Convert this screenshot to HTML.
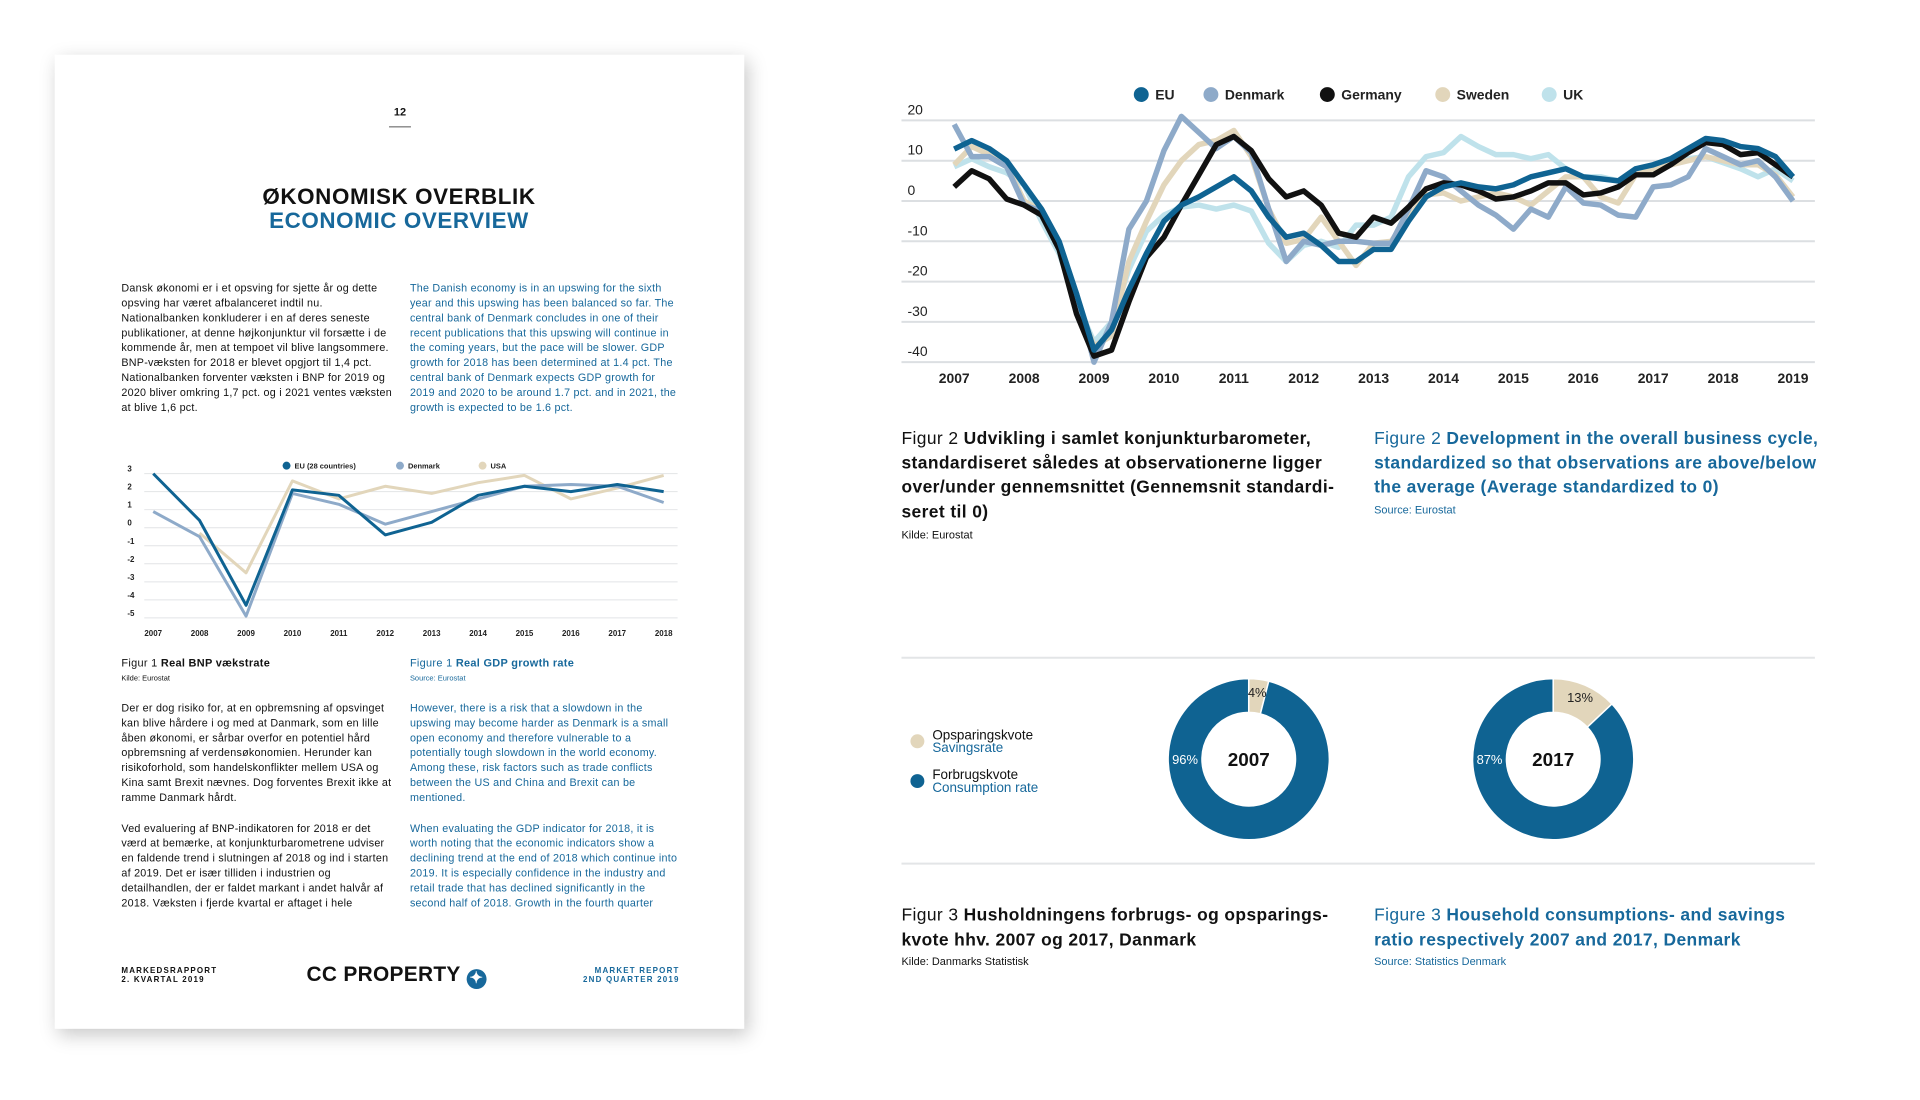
<!DOCTYPE html>
<html><head><meta charset="utf-8">
<style>
*{margin:0;padding:0;box-sizing:border-box}
body{width:1920px;height:1100px;background:#fff;position:relative;overflow:hidden;font-family:"Liberation Sans",sans-serif;color:#111}
#wrap{position:absolute;left:0;top:0;width:1920px;height:1100px;transform:scale(0.995);transform-origin:0 0}
.abs{position:absolute}
.page{left:55px;top:55px;width:693px;height:979px;background:#fff;box-shadow:4px 6px 18px rgba(0,0,0,0.22)}
.body{font-size:10.8px;line-height:15px;width:272px;letter-spacing:0.25px}
.blue{color:#17689b}
.cap{font-size:17.5px;line-height:24.6px;font-weight:bold;width:440px;letter-spacing:0.4px}
.cap span{font-weight:normal}
.src{font-size:11px}
</style></head><body>
<div id="wrap">
<div class="abs page"></div>
<div class="abs" style="left:390px;top:107px;font-size:11px;font-weight:bold;width:24px;text-align:center">12</div>
<div class="abs" style="left:391px;top:127px;width:22px;height:1px;background:#555"></div>
<div class="abs" style="left:101px;top:185px;width:600px;text-align:center;font-size:22.5px;font-weight:bold;letter-spacing:0.6px">ØKONOMISK OVERBLIK</div>
<div class="abs blue" style="left:101px;top:209px;width:600px;text-align:center;font-size:22.5px;font-weight:bold;letter-spacing:0.6px">ECONOMIC OVERVIEW</div>

<div class="abs body" style="left:122px;top:283px">Dansk økonomi er i et opsving for sjette år og dette opsving har været afbalanceret indtil nu. Nationalbanken konkluderer i en af deres seneste publikationer, at denne højkonjunktur vil forsætte i de kommende år, men at tempoet vil blive langsommere. BNP-væksten for 2018 er blevet opgjort til 1,4 pct. Nationalbanken forventer væksten i BNP for 2019 og 2020 bliver omkring 1,7 pct. og i 2021 ventes væksten at blive 1,6 pct.</div>
<div class="abs body blue" style="left:412px;top:283px">The Danish economy is in an upswing for the sixth year and this upswing has been balanced so far. The central bank of Denmark concludes in one of their recent publications that this upswing will continue in the coming years, but the pace will be slower. GDP growth for 2018 has been determined at 1.4 pct. The central bank of Denmark expects GDP growth for 2019 and 2020 to be around 1.7 pct. and in 2021, the growth is expected to be 1.6 pct.</div>

<div class="abs" style="left:122px;top:661px;font-size:11px;letter-spacing:0.3px">Figur 1 <b>Real BNP vækstrate</b></div>
<div class="abs" style="left:122px;top:677px;font-size:7.5px">Kilde: Eurostat</div>
<div class="abs blue" style="left:412px;top:661px;font-size:11px;letter-spacing:0.3px">Figure 1 <b>Real GDP growth rate</b></div>
<div class="abs blue" style="left:412px;top:677px;font-size:7.5px">Source: Eurostat</div>

<div class="abs body" style="left:122px;top:705px">Der er dog risiko for, at en opbremsning af opsvinget kan blive hårdere i og med at Danmark, som en lille åben økonomi, er sårbar overfor en potentiel hård opbremsning af verdensøkonomien. Herunder kan risikoforhold, som handelskonflikter mellem USA og Kina samt Brexit nævnes. Dog forventes Brexit ikke at ramme Danmark hårdt.</div>
<div class="abs body blue" style="left:412px;top:705px">However, there is a risk that a slowdown in the upswing may become harder as Denmark is a small open economy and therefore vulnerable to a potentially tough slowdown in the world economy. Among these, risk factors such as trade conflicts between the US and China and Brexit can be mentioned.</div>
<div class="abs body" style="left:122px;top:826px">Ved evaluering af BNP-indikatoren for 2018 er det værd at bemærke, at konjunkturbarometrene udviser en faldende trend i slutningen af 2018 og ind i starten af 2019. Det er især tilliden i industrien og detailhandlen, der er faldet markant i andet halvår af 2018. Væksten i fjerde kvartal er aftaget i hele</div>
<div class="abs body blue" style="left:412px;top:826px">When evaluating the GDP indicator for 2018, it is worth noting that the economic indicators show a declining trend at the end of 2018 which continue into 2019. It is especially confidence in the industry and retail trade that has declined significantly in the second half of 2018. Growth in the fourth quarter</div>

<div class="abs" style="left:122px;top:971px;font-size:8px;font-weight:bold;letter-spacing:1.2px;line-height:9px">MARKEDSRAPPORT<br>2. KVARTAL 2019</div>
<div class="abs" style="left:308px;top:968px;font-size:21px;font-weight:bold;letter-spacing:0.3px">CC PROPERTY <span style="display:inline-block;width:20px;height:20px;border-radius:50%;background:#17689b;color:#fff;font-size:16px;line-height:20px;text-align:center;vertical-align:-2px">✦</span></div>
<div class="abs blue" style="left:530px;top:971px;width:153px;text-align:right;font-size:8px;font-weight:bold;letter-spacing:1.2px;line-height:9px">MARKET REPORT<br>2ND QUARTER 2019</div>

<svg class="abs" style="left:0;top:0" width="1920" height="1100" id="svg"></svg>

<div class="abs cap" style="left:906px;top:428px;width:445px"><span>Figur 2</span> Udvikling i samlet konjunkturbarometer, standardiseret således at observationerne ligger over/under gennemsnittet (Gennemsnit standardi-seret til 0)</div>
<div class="abs src" style="left:906px;top:532px">Kilde: Eurostat</div>
<div class="abs cap blue" style="left:1381px;top:428px;width:460px"><span>Figure 2</span> Development in the overall business cycle, standardized so that observations are above/below the average (Average standardized to 0)</div>
<div class="abs src blue" style="left:1381px;top:507px">Source: Eurostat</div>

<div class="abs cap" style="left:906px;top:907px;width:455px"><span>Figur 3</span> Husholdningens forbrugs- og opsparings-kvote hhv. 2007 og 2017, Danmark</div>
<div class="abs src" style="left:906px;top:961px">Kilde: Danmarks Statistisk</div>
<div class="abs cap blue" style="left:1381px;top:907px;width:445px"><span>Figure 3</span> Household consumptions- and savings ratio respectively 2007 and 2017, Denmark</div>
<div class="abs src blue" style="left:1381px;top:961px">Source: Statistics Denmark</div>
</div>

<script>
// ---- Figure 2 data (quarterly 2007Q1..2019Q1)
const years2 = [2007,2008,2009,2010,2011,2012,2013,2014,2015,2016,2017,2018,2019];
const yTicks2 = [20,10,0,-10,-20,-30,-40];
const seriesNames2 = ["EU","Denmark","Germany","Sweden","UK"];
const euVals = [12.9,15,13,10,4,-2,-10,-23,-37,-32,-22,-13,-5,-1,1,3.5,6,2.5,-4,-9,-8,-11,-15,-15,-12,-12,-5,1,3.5,4.5,3.5,3,4,6,7,8,6,5.5,5,8,9,10.5,13,15.5,15,13.5,13,11,6];
const dkVals = [19,11,11,8.5,-1,-2.5,-12,-23,-40,-30,-7,0,12.5,21,17,13,16,12,-2,-15,-10,-11,-10,-10,-10.5,-10.5,-2,7.5,6,2.5,-1,-3.5,-7,-2,-4,3.5,-0.5,-1,-3.5,-4,3.5,4,6,13,11,9,10,6,0];
const deVals = [3.5,7.5,5.5,0.5,-1,-3.5,-12,-28,-38.5,-37,-25,-14,-9,-1,6.5,14,16,12.5,5.5,1,2.5,-1,-8,-9,-4,-5.5,-1.5,3,4.5,4,2.5,0.5,1,2.5,4.5,4.5,1.5,2,3.5,6.5,6.5,9,12,14.5,14,11.5,12,9,6];
const seVals = [9,13.5,11.5,9,0,-2.5,-12,-25,-36,-33.5,-15,-5,4,10,14,15,17.5,11,-2,-10.5,-9.5,-4,-10,-16,-10.5,-10,-4,1.5,2,0,1,2,1,-1,2.5,6,6,1,-0.5,6.5,8,9,10,11,10,9,9,6.5,1];
const ukVals = [8.5,10.5,8.5,7,4,-5,-13,-25,-35,-30,-17,-7.5,-3.5,-1.5,-1,-2,-1,-2.5,-10.5,-15,-11,-10,-11.5,-6,-6,-4,6,11,12,16,13.5,11.5,11.5,10.5,11.5,8,6,6,5,8,8,10,10.5,11,9.5,8,6,8,5];
const colors2 = ["#0f6392","#8eaac9","#111111","#e2d6bb","#bfe2eb"];

// ---- Figure 1 data (annual)
const years1 = [2007,2008,2009,2010,2011,2012,2013,2014,2015,2016,2017,2018];
const yTicks1 = [3,2,1,0,-1,-2,-3,-4,-5];
const gdpEU = [3,0.4,-4.3,2.1,1.8,-0.4,0.3,1.8,2.3,2.0,2.4,2.0];
const gdpDK = [0.9,-0.5,-4.9,1.9,1.3,0.2,0.9,1.6,2.3,2.4,2.3,1.4];
const gdpUSA = [null,-0.3,-2.5,2.6,1.6,2.3,1.9,2.5,2.9,1.6,2.2,2.9];

// ---- Figure 3 data
const donutYears = ["2007","2017"];
const savingsShare = [4,13];
const consumptionShare = [96,87];

const NS="http://www.w3.org/2000/svg";
const svg=document.getElementById('svg');
function mk(tag,attrs,parent){const e=document.createElementNS(NS,tag);for(const k in attrs)e.setAttribute(k,attrs[k]);(parent||svg).appendChild(e);return e;}
function txt(x,y,s,attrs){const t=mk('text',Object.assign({x:x,y:y,'font-family':'Liberation Sans, sans-serif'},attrs));t.textContent=s;return t;}

// ===== Figure 2
const g2=mk('g',{});


const x2=v=>959+(v-2007)*70.25;
const y2=v=>121+(20-v)*(364-121)/60;
yTicks2.forEach(v=>{
  const l=mk('line',{x1:906,x2:1824,y1:y2(v),y2:y2(v),stroke:'#dcdfe2','stroke-width':2},g2);
  
  
  const t=txt(912,y2(v)-6,String(v),{'font-size':14,fill:'#222'});g2.appendChild(t);
  
  
});
years2.forEach(v=>{
  const t=txt(x2(v),385,String(v),{'font-size':14,'font-weight':'bold','text-anchor':'middle',fill:'#222'});g2.appendChild(t);
  
  
});
const order=[4,3,1,2,0];
const allVals=[euVals,dkVals,deVals,seVals,ukVals];
order.forEach(i=>{
  const d=allVals[i].map((v,k)=>(k?'L':'M')+x2(2007+k/4).toFixed(1)+' '+y2(v).toFixed(1)).join(' ');
  const p=mk('path',{d:d,fill:'none',stroke:colors2[i],'stroke-width':5.5,'stroke-linejoin':'round'},g2);
  
  
});
const legX=[1147,1217,1334,1450,1557];
seriesNames2.forEach((n,i)=>{
  const c=mk('circle',{cx:legX[i],cy:95,r:7.5,fill:colors2[i]},g2);
  
  
  const t=txt(legX[i]+14,100,n,{'font-size':14,'font-weight':'bold',fill:'#222'});g2.appendChild(t);
  
  
});

// ===== Figure 1
const g1=mk('g',{});


const x1=v=>154+(v-2007)*(667-154)/11;
const y1=v=>476+(3-v)*(621-476)/8;
yTicks1.forEach(v=>{
  const l=mk('line',{x1:145,x2:681,y1:y1(v),y2:y1(v),stroke:'#e2e4e6','stroke-width':1},g1);
  
  
  const t=txt(128,y1(v)-2,String(v),{'font-size':8,'font-weight':'bold',fill:'#222'});g1.appendChild(t);
  
  
});
years1.forEach(v=>{
  const t=txt(x1(v),639,String(v),{'font-size':8,'font-weight':'bold','text-anchor':'middle',fill:'#222'});g1.appendChild(t);
  
  
});
[[gdpUSA,'#e2d6bb','usa'],[gdpDK,'#8eaac9','denmark'],[gdpEU,'#0f6392','eu']].forEach(s=>{
  let d='',first=true;
  s[0].forEach((v,k)=>{if(v===null)return;d+=(first?'M':'L')+x1(years1[k]).toFixed(1)+' '+y1(v).toFixed(1)+' ';first=false;});
  const p=mk('path',{d:d,fill:'none',stroke:s[1],'stroke-width':3,'stroke-linejoin':'round'},g1);
  
  
});
[[288,'#0f6392','EU (28 countries)'],[402,'#8eaac9','Denmark'],[485,'#e2d6bb','USA']].forEach(l=>{
  const c=mk('circle',{cx:l[0],cy:468,r:4,fill:l[1]},g1);
  
  
  const t=txt(l[0]+8,471,l[2],{'font-size':7.5,'font-weight':'bold',fill:'#222'});g1.appendChild(t);
  
  
});

// ===== Figure 3
const g3=mk('g',{});


[661,868].forEach(y=>{
  const l=mk('line',{x1:906,x2:1824,y1:y,y2:y,stroke:'#e3e5e7','stroke-width':2},g3);
  
  
});
const cxs=[1255,1561];
function arcPath(cx,cy,ro,ri,a0,a1){
  const p=(r,a)=>[cx+r*Math.sin(a),cy-r*Math.cos(a)];
  const large=(a1-a0)>Math.PI?1:0;
  const [x0,y0]=p(ro,a0),[xa,ya]=p(ro,a1),[xb,yb]=p(ri,a1),[xc,yc]=p(ri,a0);
  return `M${x0} ${y0} A${ro} ${ro} 0 ${large} 1 ${xa} ${ya} L${xb} ${yb} A${ri} ${ri} 0 ${large} 0 ${xc} ${yc} Z`;
}
donutYears.forEach((yr,i)=>{
  const cx=cxs[i],cy=763,ro=81,ri=47;
  const sa=savingsShare[i]/100*2*Math.PI;
  const s=mk('path',{d:arcPath(cx,cy,ro,ri,0,sa),fill:'#e2d6bb',stroke:'#fff','stroke-width':1.5},g3);
  
  
  const c=mk('path',{d:arcPath(cx,cy,ro,ri,sa,2*Math.PI-0.0001),fill:'#0f6392',stroke:'#fff','stroke-width':1.5},g3);
  
  
  const mid=sa/2, rl=(ro+ri)/2+4;
  const t1=txt(cx+rl*Math.sin(mid),cy-rl*Math.cos(mid)+5,savingsShare[i]+'%',{'font-size':13,'text-anchor':'middle',fill:'#222'});g3.appendChild(t1);
  
  
  const t2=txt(cx-(ro+ri)/2,cy+5,consumptionShare[i]+'%',{'font-size':13,'text-anchor':'middle',fill:'#fff'});g3.appendChild(t2);
  
  
  const t3=txt(cx,cy+7,yr,{'font-size':19,'font-weight':'bold','text-anchor':'middle',fill:'#111'});g3.appendChild(t3);
  
  
});
[[745,'#e2d6bb','Opsparingskvote','Savingsrate'],[785,'#0f6392','Forbrugskvote','Consumption rate']].forEach(l=>{
  const c=mk('circle',{cx:922,cy:l[0],r:7,fill:l[1]},g3);
  
  
  const a=txt(937,l[0]-2,l[2],{'font-size':13.5,fill:'#111'});g3.appendChild(a);
  
  
  const b=txt(937,l[0]+11,l[3],{'font-size':13.5,fill:'#17689b'});g3.appendChild(b);
  
  
});
</script>
</body></html>
